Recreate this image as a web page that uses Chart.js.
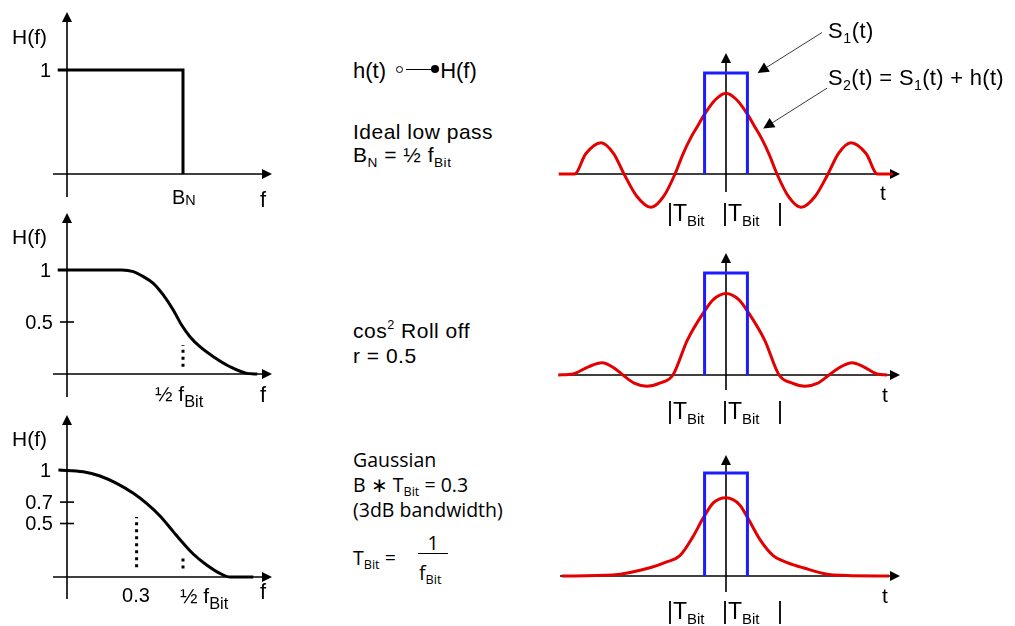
<!DOCTYPE html>
<html>
<head>
<meta charset="utf-8">
<title>Pulse shaping filters</title>
<script src="https://cdn.jsdelivr.net/npm/chart.js@4.4.1/dist/chart.umd.min.js"></script>
<style>
  html, body { margin:0; padding:0; background:#fff; }
  #stage { position:relative; width:1015px; height:626px; overflow:hidden;
           font-family:"Liberation Sans", Arial, sans-serif; color:#000; }
  #stage canvas { position:absolute; }
  .lbl { position:absolute; white-space:nowrap; line-height:1; }
  .r { transform:translateX(-100%); }
  .c { transform:translateX(-50%); }
  .os { font-family:"Open Sans", sans-serif; }
  .ls { letter-spacing:0.5px; }
  sub { font-size:0.65em; vertical-align:-0.35em; line-height:0; }
  sub.lo { font-size:0.72em; vertical-align:-0.1em; }
  sub.big { font-size:0.78em; vertical-align:-0.35em; }
  sup { font-size:0.6em; vertical-align:0.75em; line-height:0; }
  .bar { position:absolute; border-top:1.5px solid #000; height:0; }
  .ring { display:inline-block; width:5px; height:5px; border:1.3px solid #000; border-radius:50%;
          vertical-align:0.25em; margin:0 3px 0 4px; }
  .dash { display:inline-block; width:25px; border-top:1.6px solid #000; vertical-align:0.38em; }
  .dot { display:inline-block; width:8px; height:8px; background:#000; border-radius:50%;
         vertical-align:0.22em; margin:0 1px 0 0; }
</style>
</head>
<body>
<div id="stage">
  <canvas id="hIdeal"></canvas>
  <canvas id="hCos"></canvas>
  <canvas id="hGauss"></canvas>
  <canvas id="sIdeal"></canvas>
  <canvas id="sCos"></canvas>
  <canvas id="sGauss"></canvas>

  <!-- frequency responses -->
  <div class="lbl" style="left:12px;top:26px;font-size:21px">H(f)</div>
  <div class="lbl r" style="left:51px;top:60px;font-size:20px">1</div>
  <div class="lbl" style="left:172px;top:187px;font-size:20px">B<sub class="lo">N</sub></div>
  <div class="lbl" style="left:260px;top:189px;font-size:22px">f</div>

  <div class="lbl" style="left:12px;top:226px;font-size:21px">H(f)</div>
  <div class="lbl r" style="left:51px;top:260px;font-size:20px">1</div>
  <div class="lbl r" style="left:53px;top:312px;font-size:20px">0.5</div>
  <div class="lbl" style="left:155px;top:383px;font-size:21px">½ f<sub class="big">Bit</sub></div>
  <div class="lbl" style="left:260px;top:384px;font-size:22px">f</div>

  <div class="lbl" style="left:12px;top:428px;font-size:21px">H(f)</div>
  <div class="lbl r" style="left:51px;top:460px;font-size:20px">1</div>
  <div class="lbl r" style="left:53px;top:492px;font-size:20px">0.7</div>
  <div class="lbl r" style="left:53px;top:513px;font-size:20px">0.5</div>
  <div class="lbl c" style="left:136px;top:585px;font-size:20px">0.3</div>
  <div class="lbl" style="left:180px;top:585px;font-size:21px">½ f<sub class="big">Bit</sub></div>
  <div class="lbl" style="left:260px;top:581px;font-size:22px">f</div>

  <!-- descriptions -->
  <div class="lbl" style="left:353px;top:60px;font-size:22px">h(t) <span class="ring"></span><span class="dash"></span><span class="dot"></span>H(f)</div>
  <div class="lbl ls" style="left:353px;top:121px;font-size:21px">Ideal low pass</div>
  <div class="lbl ls" style="left:353px;top:144px;font-size:21px">B<sub>N</sub> = ½ f<sub>Bit</sub></div>
  <div class="lbl ls" style="left:353px;top:320px;font-size:21px">cos<sup>2</sup> Roll off</div>
  <div class="lbl ls" style="left:353px;top:345px;font-size:21px">r = 0.5</div>

  <div class="lbl os" style="left:353px;top:450px;font-size:19.5px">Gaussian</div>
  <div class="lbl os" style="left:353px;top:475px;font-size:19.5px">B ∗ T<sub>Bit</sub> = 0.3</div>
  <div class="lbl os" style="left:353px;top:500px;font-size:19.5px">(3dB bandwidth)</div>
  <div class="lbl os" style="left:353px;top:548px;font-size:19.5px">T<sub>Bit</sub> =</div>
  <div class="lbl os c" style="left:433px;top:533px;font-size:19.5px">1</div>
  <div class="bar" style="left:418px;top:553px;width:30px"></div>
  <div class="lbl os" style="left:419px;top:563px;font-size:19.5px">f<sub>Bit</sub></div>

  <!-- pulse responses -->
  <div class="lbl ls" style="left:828px;top:20px;font-size:22px">S<sub>1</sub>(t)</div>
  <div class="lbl" style="left:828px;top:67px;font-size:22px;letter-spacing:0.3px">S<sub>2</sub>(t) = S<sub>1</sub>(t) + h(t)</div>
  <div class="lbl" style="left:880px;top:182px;font-size:21px">t</div>
  <div class="lbl" style="left:882px;top:384px;font-size:21px">t</div>
  <div class="lbl" style="left:882px;top:585px;font-size:21px">t</div>

  <div class="lbl" style="left:667px;top:202px;font-size:23px">|T<sub>Bit</sub></div>
  <div class="lbl" style="left:722px;top:202px;font-size:23px">|T<sub>Bit</sub></div>
  <div class="lbl" style="left:777px;top:202px;font-size:23px">|</div>
  <div class="lbl" style="left:667px;top:400px;font-size:23px">|T<sub>Bit</sub></div>
  <div class="lbl" style="left:722px;top:400px;font-size:23px">|T<sub>Bit</sub></div>
  <div class="lbl" style="left:777px;top:400px;font-size:23px">|</div>
  <div class="lbl" style="left:667px;top:600px;font-size:23px">|T<sub>Bit</sub></div>
  <div class="lbl" style="left:722px;top:600px;font-size:23px">|T<sub>Bit</sub></div>
  <div class="lbl" style="left:777px;top:600px;font-size:23px">|</div>
</div>

<script>
// ---- Frequency responses H(f), f in units of f_Bit ----
const idealF = [-0.04, 0.5, 0.5];
const idealH = [1, 1, 0];

const cosF = [-0.04, 0.236, 0.286, 0.329, 0.372, 0.415, 0.458, 0.494, 0.53, 0.573, 0.631, 0.703, 0.775, 0.82];
const cosH = [1, 1, 0.984, 0.936, 0.872, 0.76, 0.615, 0.471, 0.359, 0.263, 0.167, 0.07, 0.006, 0];

const gaussF = [-0.037, 0.07, 0.142, 0.214, 0.286, 0.343, 0.401, 0.458, 0.501, 0.544, 0.602, 0.659, 0.703, 0.803];
const gaussH = [1, 0.984, 0.944, 0.875, 0.782, 0.688, 0.57, 0.424, 0.315, 0.215, 0.112, 0.034, 0, 0];

// y-axis tick values
const cosTicks = [0.5];
const gaussTicks = [0.7, 0.5];

// dotted marker lines: position f, from / to height
const cosMarkF = [0.5],        cosMarkLo = [0.07],         cosMarkHi = [0.28];
const gaussMarkF = [0.3, 0.5], gaussMarkLo = [0.09, 0.08], gaussMarkHi = [0.56, 0.19];

// ---- Pulse responses, t in units of T_Bit ----
const rectT = [-0.42, -0.42, 0.42, 0.42];
const rectS = [0, 1, 1, 0];

const sincT = [-3.28, -2.97, -2.75, -2.45, -2.2, -2.0, -1.75, -1.47, -1.22, -1.0, -0.85, -0.7, -0.55, -0.41, -0.2, 0,
               0.2, 0.41, 0.55, 0.7, 0.85, 1.0, 1.22, 1.47, 1.75, 2.0, 2.2, 2.45, 2.75, 2.97, 3.27];
const sincS = [0, 0, 0.2, 0.31, 0.2, 0, -0.22, -0.33, -0.22, 0, 0.19, 0.35, 0.48, 0.6, 0.74, 0.8,
               0.74, 0.6, 0.48, 0.35, 0.19, 0, -0.22, -0.33, -0.22, 0, 0.2, 0.31, 0.2, 0, 0];

const rollT = [-3.29, -3.0, -2.7, -2.43, -2.2, -2.02, -1.8, -1.55, -1.3, -1.04, -0.76, -0.43, -0.25, 0,
               0.25, 0.43, 0.76, 1.04, 1.3, 1.55, 1.8, 2.02, 2.25, 2.47, 2.7, 2.96, 3.16];
const rollS = [0, 0.01, 0.08, 0.12, 0.07, 0, -0.08, -0.11, -0.08, 0, 0.34, 0.62, 0.74, 0.8,
               0.74, 0.62, 0.34, 0, -0.08, -0.11, -0.08, 0, 0.08, 0.12, 0.08, 0.01, 0];

const gpT = [-3.22, -2.22, -1.49, -1.2, -0.9, -0.65, -0.45, -0.25, 0,
             0.27, 0.43, 0.67, 0.92, 1.2, 1.51, 2.1, 3.2];
const gpS = [0, 0.01, 0.08, 0.13, 0.2, 0.38, 0.56, 0.71, 0.76,
             0.69, 0.56, 0.35, 0.2, 0.13, 0.08, 0.01, 0];

const BLACK = '#000000', RED = '#e30000', BLUE = '#1c1cff';

function pts(xs, ys) { return xs.map((x, i) => ({ x, y: ys[i] })); }

function curve(xs, ys, color, smooth) {
  return {
    data: pts(xs, ys), borderColor: color, borderWidth: 3, pointRadius: 0,
    fill: false, tension: 0,
    cubicInterpolationMode: smooth ? 'monotone' : 'default',
    borderJoinStyle: smooth ? 'round' : 'miter', borderCapStyle: 'butt'
  };
}

function marks(fs, lo, hi) {
  return fs.map((f, i) => ({
    data: [{ x: f, y: lo[i] }, { x: f, y: hi[i] }],
    borderColor: BLACK, borderWidth: 3, borderDash: [3, 4], pointRadius: 0,
    fill: false, tension: 0, borderCapStyle: 'butt'
  }));
}

function head(ctx, x, y, dx, dy, L, W) {
  const n = Math.hypot(dx, dy); dx /= n; dy /= n;
  ctx.beginPath();
  ctx.moveTo(x, y);
  ctx.lineTo(x - dx * L - dy * W, y - dy * L + dx * W);
  ctx.lineTo(x - dx * L + dy * W, y - dy * L - dx * W);
  ctx.closePath();
  ctx.fill();
}

function seg(ctx, x1, y1, x2, y2) {
  ctx.beginPath(); ctx.moveTo(x1, y1); ctx.lineTo(x2, y2); ctx.stroke();
}

// Draws the arrow-tipped axes through the origin, small y ticks and callout arrows
const arrowAxes = {
  id: 'arrowAxes',
  beforeDatasetsDraw(chart, args, o) {
    const { ctx } = chart;
    const xs = chart.scales.x, ys = chart.scales.y;
    const px = xs.getPixelForValue(0), py = ys.getPixelForValue(0);
    ctx.save();
    ctx.strokeStyle = BLACK; ctx.fillStyle = BLACK; ctx.lineWidth = 1.6;
    const xa = px + o.xAxis[0], xb = px + o.xAxis[1];
    seg(ctx, xa, py, xb - 8, py);
    head(ctx, xb, py, 1, 0, 10, 5);
    const ya = py - o.yAxis[0], yb = py - o.yAxis[1];
    seg(ctx, px, ya, px, yb + 8);
    head(ctx, px, yb, 0, -1, 10, 5);
    (o.ticks || []).forEach(v => {
      const ty = ys.getPixelForValue(v);
      seg(ctx, px - 7, ty, px + 7, ty);
    });
    ctx.restore();
  },
  afterDatasetsDraw(chart, args, o) {
    const { ctx } = chart;
    const xs = chart.scales.x, ys = chart.scales.y;
    ctx.save();
    (o.callouts || []).forEach(c => {
      const x1 = xs.getPixelForValue(c.from[0]), y1 = ys.getPixelForValue(c.from[1]);
      const x2 = xs.getPixelForValue(c.to[0]),   y2 = ys.getPixelForValue(c.to[1]);
      const dx = x2 - x1, dy = y2 - y1, n = Math.hypot(dx, dy);
      ctx.strokeStyle = '#3a3a3a'; ctx.lineWidth = 1;
      seg(ctx, x1, y1, x2 - dx / n * 9, y2 - dy / n * 9);
      ctx.fillStyle = BLACK;
      head(ctx, x2, y2, dx, dy, 11, 5.5);
    });
    ctx.restore();
  }
};

// canvas box [left, top, width, height], origin pixel, pixels per unit
const panels = [
  { id: 'hIdeal', box: [0, 0, 300, 205],   origin: [67, 174], unit: [232, 104],
    xAxis: [-14, 205], yAxis: [-23, 162], ticks: [],
    datasets: [curve(idealF, idealH, BLACK, false)] },
  { id: 'hCos',   box: [0, 205, 300, 200], origin: [67, 374], unit: [232, 104],
    xAxis: [-14, 205], yAxis: [-23, 161], ticks: cosTicks,
    datasets: [curve(cosF, cosH, BLACK, true), ...marks(cosMarkF, cosMarkLo, cosMarkHi)] },
  { id: 'hGauss', box: [0, 405, 300, 221], origin: [67, 577], unit: [232, 107],
    xAxis: [-14, 205], yAxis: [-22, 162], ticks: gaussTicks,
    datasets: [curve(gaussF, gaussH, BLACK, true), ...marks(gaussMarkF, gaussMarkLo, gaussMarkHi)] },
  { id: 'sIdeal', box: [540, 0, 475, 240], origin: [726, 174], unit: [51, 101],
    xAxis: [-166, 174], yAxis: [-18, 121], ticks: [],
    callouts: [ { from: [1.88, 1.40], to: [0.62, 1.00] },
                { from: [1.98, 0.85], to: [0.73, 0.45] } ],
    datasets: [curve(rectT, rectS, BLUE, false), curve(sincT, sincS, RED, true)] },
  { id: 'sCos',   box: [540, 240, 475, 190], origin: [726, 375], unit: [51, 102],
    xAxis: [-166, 174], yAxis: [-15, 122], ticks: [],
    datasets: [curve(rectT, rectS, BLUE, false), curve(rollT, rollS, RED, true)] },
  { id: 'sGauss', box: [540, 435, 475, 191], origin: [726, 576], unit: [51, 103],
    xAxis: [-166, 174], yAxis: [-16, 121], ticks: [],
    datasets: [curve(rectT, rectS, BLUE, false), curve(gpT, gpS, RED, true)] }
];

panels.forEach(p => {
  const [L, T, W, H] = p.box;
  const cv = document.getElementById(p.id);
  cv.width = W; cv.height = H;
  cv.style.left = L + 'px'; cv.style.top = T + 'px';
  cv.style.width = W + 'px'; cv.style.height = H + 'px';
  const [ox, oy] = p.origin, [ux, uy] = p.unit;
  new Chart(cv, {
    type: 'line',
    data: { datasets: p.datasets },
    options: {
      responsive: false, animation: false, events: [],
      layout: { padding: 0 },
      scales: {
        x: { type: 'linear', display: false, min: (L - ox) / ux, max: (L + W - ox) / ux },
        y: { type: 'linear', display: false, min: (oy - (T + H)) / uy, max: (oy - T) / uy }
      },
      plugins: {
        legend: { display: false }, tooltip: { enabled: false },
        arrowAxes: { xAxis: p.xAxis, yAxis: p.yAxis, ticks: p.ticks, callouts: p.callouts || [] }
      }
    },
    plugins: [arrowAxes]
  });
});
</script>
</body>
</html>
